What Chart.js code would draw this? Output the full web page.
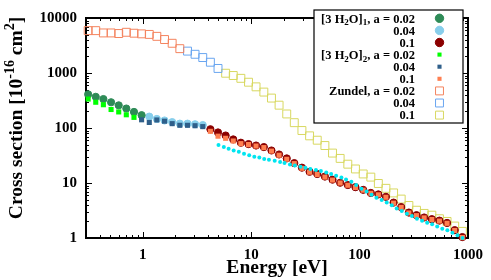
<!DOCTYPE html>
<html>
<head>
<meta charset="utf-8">
<script src="https://cdn.jsdelivr.net/npm/chart.js@4.4.1/dist/chart.umd.min.js"></script>
<style>
  html, body { margin: 0; padding: 0; background: #fff; }
</style>
</head>
<body>
<canvas id="chart" width="491" height="280"></canvas>
<script>
// energy grid [eV] shared by the cluster runs
const energy = [0.314, 0.369, 0.434, 0.511, 0.601, 0.706, 0.831, 0.977, 1.15, 1.35,
  1.59, 1.87, 2.20, 2.59, 3.04, 3.58, 4.21, 4.95, 5.82, 6.84,
  8.04, 9.46, 11.1, 13.1, 15.4, 18.1, 21.3, 25.0, 29.4, 34.6,
  40.7, 47.9, 56.3, 66.2, 77.9, 91.6, 108, 127, 149, 175,
  206, 242, 285, 335, 394, 464, 545, 641, 754, 887];

// [3 H2O]1 (circles)
const trimer1A002 = [409, 369, 336, 294, 258, 226, 196, 171];
const trimer1A004 = [161, 146, 137, 128, 120, 120, 117, 113];
const trimer1A01 = [95, 83, 73, 62, 54, 51, 48, 45, 39, 33, 28, 23, 19, 16, 14.6, 13.1, 11.5,
  10.1, 9.2, 8.4, 7.5, 6.6, 6.2, 5.6, 4.4, 3.65, 2.9, 2.6, 2.36, 2.2, 2.07, 1.88, 1.39, 1.04];

// [3 H2O]2 (small squares)
const trimer2A002 = [336, 294, 265, 217, 196, 174, 156];
const trimer2A004 = [141, 126, 140, 133, 120, 112, 112, 110, 106];
const trimer2A01 = [87, 71, 65, 58, 52, 50, 47, 44, 38, 32, 27, 22.5, 18.5, 15.7, 14.3, 12.8, 11.3,
  10, 9.1, 8.3, 7.4, 6.5, 6.1, 5.5, 4.3, 3.6, 2.85, 2.55, 2.32, 2.17, 2.03, 1.85, 1.37, 1.02];

// Zundel (open squares)
const zundelA002 = [5890, 5890, 5350, 5350, 5220, 5500, 5290, 5150, 5030, 4640, 4060, 3470, 2770];
const zundelA004 = [2500, 2190, 1910, 1570, 1210];
const zundelA01 = [990, 900, 800, 680, 560, 450, 350, 260, 180, 125, 90, 72, 60, 48, 35, 28,
  22, 18, 14.6, 12.8, 9.8, 8.0, 6.6, 5.1, 3.9, 3.2, 2.8, 2.6, 2.24, 2.0, 1.65, 1.32];

// reference curve (cyan dots)
const refEnergy = [5.0, 5.6, 6.2, 6.9, 7.7, 8.6, 9.6, 10.7, 11.9, 13.2, 14.6, 16.5, 18.5, 20.3,
  22.8, 25.3, 28.5, 31.7, 35.2, 39.6, 44.0, 49.3, 54.7, 60.8, 68, 75, 84, 93, 104, 116, 129,
  143, 160, 178, 198, 220, 245, 273, 304, 338, 377, 420, 467, 520, 579, 645, 718, 800, 890];
const refValues = [49, 45, 42, 39, 37, 34, 32, 30, 29, 27.4, 26.4, 25.3, 24, 23.1, 21.6, 20.8,
  19.7, 19, 18, 17.3, 16.6, 15.6, 14.6, 13.6, 12.6, 11.6, 10.5, 9.2, 7.9, 7.0, 6.1, 5.4, 4.9,
  4.4, 3.95, 3.45, 3.1, 2.75, 2.5, 2.25, 2.05, 1.9, 1.78, 1.62, 1.48, 1.38, 1.25, 1.12, 1.0];

const xTicks = [1, 10, 100, 1000];
const yTicks = [1, 10, 100, 1000, 10000];

const FONT = '"Liberation Serif", "Times New Roman", serif';

function onGrid(start, values) {
  return values.map((v, i) => ({ x: energy[start + i], y: v }));
}

function circles(label, start, values, color) {
  return {
    label, data: onGrid(start, values), order: 2,
    pointStyle: 'circle', pointRadius: 3.6, borderWidth: 1,
    backgroundColor: color, borderColor: color
  };
}
function smallSquares(label, start, values, color) {
  return {
    label, data: onGrid(start, values), order: 1,
    pointStyle: 'rect', pointRadius: 3.6, borderWidth: 0,
    backgroundColor: color, borderColor: color
  };
}
function openSquares(label, start, values, color) {
  return {
    label, data: onGrid(start, values), order: 3,
    pointStyle: 'rect', pointRadius: 5.6, borderWidth: 1,
    backgroundColor: 'rgba(0,0,0,0)', borderColor: color
  };
}

const datasets = [
  circles('[3 H2O]1, a = 0.02', 0, trimer1A002, '#2e8b57'),
  circles('0.04', 8, trimer1A004, '#87ceeb'),
  circles('0.1', 16, trimer1A01, '#8b0000'),
  smallSquares('[3 H2O]2, a = 0.02', 0, trimer2A002, '#00ff00'),
  smallSquares('0.04', 7, trimer2A004, '#2f5f8a'),
  smallSquares('0.1', 16, trimer2A01, '#ff7f50'),
  openSquares('Zundel, a = 0.02', 0, zundelA002, '#f4845f'),
  openSquares('0.04', 13, zundelA004, '#6aa6f0'),
  openSquares('0.1', 18, zundelA01, '#d8d860'),
  {
    label: 'reference', data: refEnergy.map((x, i) => ({ x, y: refValues[i] })), order: 0,
    pointStyle: 'circle', pointRadius: 2, borderWidth: 0,
    backgroundColor: '#00e5f0', borderColor: '#00e5f0'
  }
];

// legend rows: pieces of text (sub = subscript)
const legendRows = [
  [{ t: '[3 H' }, { t: '2', s: 'sub' }, { t: 'O]' }, { t: '1', s: 'sub' }, { t: ', a = 0.02' }],
  [{ t: '0.04' }],
  [{ t: '0.1' }],
  [{ t: '[3 H' }, { t: '2', s: 'sub' }, { t: 'O]' }, { t: '2', s: 'sub' }, { t: ', a = 0.02' }],
  [{ t: '0.04' }],
  [{ t: '0.1' }],
  [{ t: 'Zundel, a = 0.02' }],
  [{ t: '0.04' }],
  [{ t: '0.1' }]
];

function partFont(p, size) {
  const s = p.s ? Math.round(size * 0.72) : size;
  return 'bold ' + s + 'px ' + FONT;
}
function richWidth(ctx, parts, size) {
  let w = 0;
  parts.forEach(p => { ctx.font = partFont(p, size); w += ctx.measureText(p.t).width; });
  return w;
}
function drawRich(ctx, parts, x, y, size, align) {
  const w = richWidth(ctx, parts, size);
  let cx = align === 'right' ? x - w : align === 'center' ? x - w / 2 : x;
  ctx.textBaseline = 'alphabetic';
  ctx.textAlign = 'left';
  parts.forEach(p => {
    ctx.font = partFont(p, size);
    const dy = p.s === 'sup' ? -size * 0.4 : p.s === 'sub' ? size * 0.22 : 0;
    ctx.fillText(p.t, cx, y + dy);
    cx += ctx.measureText(p.t).width;
  });
}

function minorValues(min, max) {
  const out = [];
  for (let e = Math.floor(Math.log10(min)); e < Math.log10(max); e++) {
    const d = Math.pow(10, e);
    for (let m = 2; m <= 9; m++) {
      const v = d * m;
      if (v > min && v < max) out.push(v);
    }
  }
  return out;
}

const framePlugin = {
  id: 'frame',
  beforeDatasetsDraw(chart) {
    const { ctx, chartArea: a, scales: { x, y } } = chart;
    ctx.save();
    ctx.strokeStyle = '#000';
    ctx.lineWidth = 1;
    ctx.beginPath();
    const tick = (vals, len, scale, horiz) => {
      vals.forEach(v => {
        const p = Math.round(scale.getPixelForValue(v)) + 0.5;
        if (horiz) {
          ctx.moveTo(p, a.bottom); ctx.lineTo(p, a.bottom - len);
          ctx.moveTo(p, a.top); ctx.lineTo(p, a.top + len);
        } else {
          ctx.moveTo(a.left, p); ctx.lineTo(a.left + len, p);
          ctx.moveTo(a.right, p); ctx.lineTo(a.right - len, p);
        }
      });
    };
    tick(xTicks, 6, x, true);
    tick(minorValues(x.min, x.max), 3, x, true);
    tick(yTicks, 6, y, false);
    tick(minorValues(y.min, y.max), 3, y, false);
    ctx.stroke();
    ctx.lineWidth = 2;
    ctx.strokeRect(a.left, a.top, a.right - a.left, a.bottom - a.top);
    ctx.restore();
  },
  afterDraw(chart) {
    const { ctx, chartArea: a } = chart;
    ctx.save();
    ctx.fillStyle = '#000';

    // axis titles
    drawRich(ctx, [{ t: 'Energy [eV]' }], (a.left + a.right) / 2, 273, 19.5, 'center');
    ctx.translate(22, 118);
    ctx.rotate(-Math.PI / 2);
    drawRich(ctx, [{ t: 'Cross section [10' }, { t: '-16', s: 'sup' }, { t: ' cm' },
      { t: '2', s: 'sup' }, { t: ']' }], 0, 0, 19.5, 'center');
    ctx.restore();

    // key box
    ctx.save();
    const box = { l: 314, t: 10, r: 463, b: 123 };
    ctx.fillStyle = '#fff';
    ctx.fillRect(box.l, box.t, box.r - box.l, box.b - box.t);
    ctx.strokeStyle = '#000';
    ctx.lineWidth = 1.2;
    ctx.strokeRect(box.l, box.t, box.r - box.l, box.b - box.t);
    legendRows.forEach((parts, i) => {
      const cy = 18.3 + i * 12.1;
      ctx.fillStyle = '#000';
      drawRich(ctx, parts, 415, cy + 4.3, 12.5, 'right');
      const ds = chart.data.datasets[i];
      ctx.fillStyle = ds.backgroundColor;
      ctx.strokeStyle = ds.borderColor;
      ctx.lineWidth = ds.borderWidth || 0;
      const small = ds.pointStyle === 'rect' && ds.borderWidth === 0;
      Chart.helpers.drawPoint(ctx, {
        pointStyle: ds.pointStyle,
        radius: small ? 2.9 : ds.pointRadius + (ds.pointStyle === 'circle' ? 0.6 : 0),
        rotation: 0,
        borderWidth: ds.borderWidth
      }, 439.5, cy);
    });
    ctx.restore();
  }
};

const tickFont = { family: FONT, size: 15, weight: 'bold' };

new Chart(document.getElementById('chart'), {
  type: 'scatter',
  data: { datasets: datasets.map(d => Object.assign({ clip: false }, d)) },
  options: {
    responsive: false,
    animation: false,
    devicePixelRatio: 1,
    layout: { padding: { top: 5, right: 18, left: 0, bottom: 0 } },
    plugins: { legend: { display: false }, tooltip: { enabled: false } },
    scales: {
      x: {
        type: 'logarithmic', min: 0.3, max: 1000,
        grid: { display: false, drawTicks: false },
        border: { display: false },
        afterBuildTicks: s => { s.ticks = xTicks.map(v => ({ value: v })); },
        afterFit: s => { s.height = 42; },
        ticks: { font: tickFont, color: '#000', padding: 8, maxRotation: 0, autoSkip: false,
          callback: v => String(v) }
      },
      y: {
        type: 'logarithmic', min: 1, max: 10000,
        grid: { display: false, drawTicks: false },
        border: { display: false },
        afterBuildTicks: s => { s.ticks = yTicks.map(v => ({ value: v })); },
        afterFit: s => { s.width = 86; },
        ticks: { font: tickFont, color: '#000', padding: 9, autoSkip: false,
          callback: v => String(v) }
      }
    }
  },
  plugins: [framePlugin]
});
</script>
</body>
</html>
